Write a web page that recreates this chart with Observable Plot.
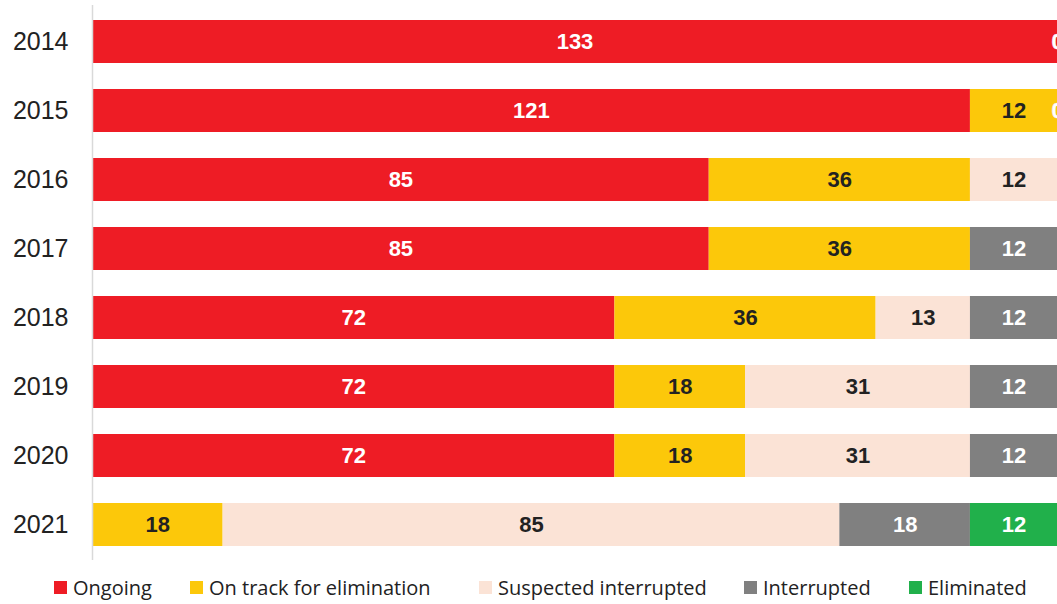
<!DOCTYPE html>
<html>
<head>
<meta charset="utf-8">
<script src="https://cdn.jsdelivr.net/npm/d3@7"></script>
<script src="https://cdn.jsdelivr.net/npm/@observablehq/plot@0.6"></script>
<style>
  html, body { margin: 0; padding: 0; background: #fff; }
  #wrap { position: relative; width: 1057px; height: 604px; overflow: hidden; }
  #legend { position: absolute; left: 0; top: 573px; width: 1057px; height: 28px; font-family: "Open Sans", "Noto Sans", sans-serif; font-size: 20px; color: #222; }
  .item { position: absolute; top: 0; display: flex; align-items: center; height: 28px; white-space: nowrap; }
  .sw { width: 13px; height: 13px; margin-right: 6px; }
</style>
</head>
<body>
<div id="wrap">
  <div id="chart"></div>
  <div id="legend"></div>
</div>
<script>
const years = ["2014", "2015", "2016", "2017", "2018", "2019", "2020", "2021"];
const categories = ["Ongoing", "On track for elimination", "Suspected interrupted", "Interrupted", "Eliminated"];
const ongoing     = [133, 121, 85, 85, 72, 72, 72, 0];
const onTrack     = [0, 12, 36, 36, 36, 18, 18, 18];
const suspected   = [0, 0, 12, 0, 13, 31, 31, 85];
const interrupted = [0, 0, 0, 12, 12, 12, 12, 18];
const eliminated  = [0, 0, 0, 0, 0, 0, 0, 12];
// years where a "0" label is printed at the end of the bar
const zeroLabelYears = ["2014", "2015"];

const colors = ["#ee1c25", "#fcc80a", "#fbe3d6", "#808080", "#21b04b"];
const textColors = ["#ffffff", "#222222", "#222222", "#ffffff", "#ffffff"];
const legendX = [54, 190, 479, 744, 909];

const series = [ongoing, onTrack, suspected, interrupted, eliminated];
const data = [];
years.forEach((y, i) => {
  categories.forEach((c, j) => {
    data.push({year: y, cat: c, value: series[j][i], ci: j});
  });
});

const chart = Plot.plot({
  width: 1057,
  height: 565,
  marginLeft: 92,
  marginRight: 0,
  marginTop: 5,
  marginBottom: 5,
  x: {domain: [0, 133], axis: null},
  y: {domain: years, paddingInner: 0.38, paddingOuter: 0.183, label: null},
  color: {domain: categories, range: colors},
  style: {fontFamily: "'Liberation Sans', Arial, sans-serif", fontSize: "22px", color: "#222", overflow: "visible"},
  marks: [
    Plot.barX(data, Plot.stackX({x: "value", y: "year", fill: "cat", order: categories})),
    Plot.ruleX([0], {stroke: "#d9d9d9", strokeWidth: 1.5}),
    Plot.axisY({tickSize: 0, tickPadding: 24, fontSize: 25, fill: "#222", label: null}),
    Plot.textX(data, Plot.stackX({
      x: "value",
      y: "year",
      order: categories,
      filter: d => d.value > 0 || (d.cat === "Eliminated" && zeroLabelYears.includes(d.year)),
      text: d => String(d.value),
      fill: {value: d => textColors[d.ci], scale: null},
      stroke: {value: d => d.value === 0 ? "#d8d8d8" : "none", scale: null},
      strokeWidth: 0.6,
      fontSize: 22,
      fontWeight: "bold",
      fontFamily: "'Liberation Sans', Arial, sans-serif"
    }))
  ]
});
document.getElementById("chart").appendChild(chart);

const legend = document.getElementById("legend");
categories.forEach((c, j) => {
  const item = document.createElement("div");
  item.className = "item";
  item.style.left = legendX[j] + "px";
  const sw = document.createElement("span");
  sw.className = "sw";
  sw.style.background = colors[j];
  const t = document.createElement("span");
  t.textContent = c;
  item.appendChild(sw);
  item.appendChild(t);
  legend.appendChild(item);
});
</script>
</body>
</html>
